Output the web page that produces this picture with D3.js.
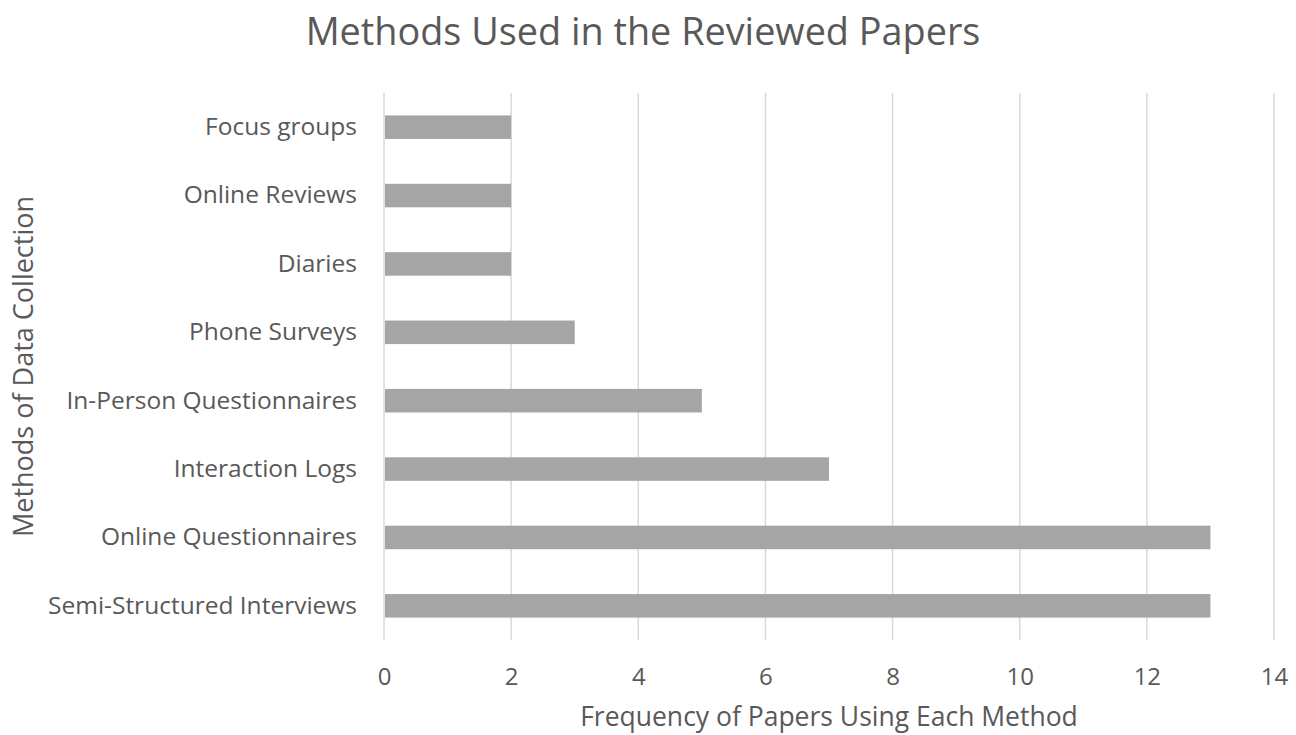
<!DOCTYPE html>
<html><head><meta charset="utf-8">
<script src="https://cdn.jsdelivr.net/npm/d3@7"></script>
<style>body{margin:0;background:#fff}text{font-family:"Open Sans",sans-serif;fill:#595959}</style>
</head><body>
<svg id="c" width="1296" height="735"></svg>
<script>
const categories = ["Focus groups","Online Reviews","Diaries","Phone Surveys","In-Person Questionnaires","Interaction Logs","Online Questionnaires","Semi-Structured Interviews"];
const values = [2,2,2,3,5,7,13,13];
const xTicks = [0,2,4,6,8,10,12,14];
const title = "Methods Used in the Reviewed Papers";
const xTitle = "Frequency of Papers Using Each Method";
const yTitle = "Methods of Data Collection";

const svg = d3.select("#c");
const m = {left:384, right:1274, top:93, bottom:640};
const x = d3.scaleLinear().domain([0,14]).range([m.left, m.right]);
const y = d3.scaleBand().domain(categories).range([m.top, m.bottom]).paddingInner(0.656).paddingOuter(0.328);

// gridlines
svg.append("g").selectAll("line").data(xTicks).join("line")
  .attr("x1", d=>x(d)).attr("x2", d=>x(d)).attr("y1", m.top).attr("y2", m.bottom)
  .attr("stroke", "#d9d9d9").attr("stroke-width", 1.5);

// bars
svg.append("g").selectAll("rect").data(values).join("rect")
  .attr("x", x(0)+1).attr("y", (d,i)=>y(categories[i]))
  .attr("width", d=>x(d)-x(0)-1).attr("height", y.bandwidth())
  .attr("fill", "#a5a5a5");

// x tick labels
const xa = d3.axisBottom(x).tickValues(xTicks).tickSize(0).tickPadding(0);
const gx = svg.append("g").attr("transform", `translate(0,${m.bottom})`).call(xa);
gx.select(".domain").remove();
gx.selectAll("text").attr("dy", null).attr("y", 45).style("font-size","24px").attr("fill","#595959");

// y labels
const ya = d3.axisLeft(y).tickSize(0).tickPadding(27);
const gy = svg.append("g").attr("transform", `translate(${m.left},0)`).call(ya);
gy.select(".domain").remove();
gy.selectAll("text").style("font-size","24.5px").attr("fill","#595959");

svg.append("text").attr("x", 643).attr("y", 45).attr("text-anchor","middle")
  .style("font-size","37.8px").text(title);
svg.append("text").attr("x", (m.left+m.right)/2).attr("y", 726).attr("text-anchor","middle")
  .style("font-size","26.5px").text(xTitle);
svg.append("text").attr("transform", `translate(33,${(m.top+m.bottom)/2}) rotate(-90)`).attr("text-anchor","middle")
  .style("font-size","27px").text(yTitle);
</script>
</body></html>
